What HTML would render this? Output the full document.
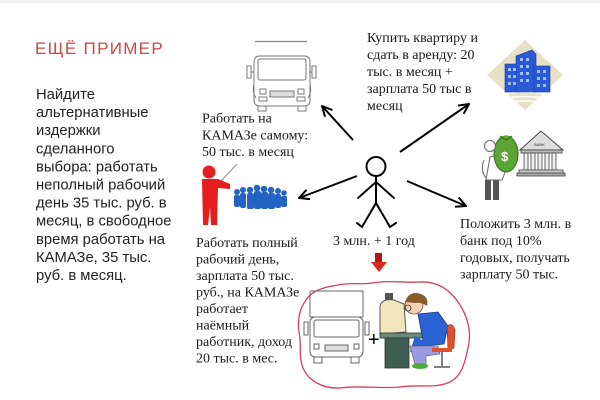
<!DOCTYPE html>
<html><head><meta charset="utf-8"><style>
html,body{margin:0;padding:0;background:#fff;}
svg{display:block;}
.t{font-family:"Liberation Serif","Noto Serif CJK SC",serif;font-size:14px;fill:#1a1a1a;}
.a{font-family:"Liberation Sans","Noto Sans CJK SC",sans-serif;font-size:14.8px;fill:#222;}
</style></head><body>
<svg width="600" height="400" viewBox="0 0 600 400" xmlns="http://www.w3.org/2000/svg">
<defs>
<marker id="ah" viewBox="0 0 12 12" refX="11" refY="6" markerWidth="12" markerHeight="12" markerUnits="userSpaceOnUse" orient="auto">
<path d="M1,1 L11,6 L1,11" fill="none" stroke="#000" stroke-width="2"/>
</marker>
</defs>
<rect width="600" height="400" fill="#fff"/>
<rect width="600" height="3" fill="#f2f2f2"/>

<!-- Title -->
<text x="35" y="54" font-family="Liberation Sans, sans-serif" font-size="17" fill="#c64a44" letter-spacing="1.3">ЕЩЁ ПРИМЕР</text>

<!-- Left paragraph -->
<g class="a">
<text x="36" y="99">Найдите</text>
<text x="36" y="117.1">альтернативные</text>
<text x="36" y="135.2">издержки</text>
<text x="36" y="153.3">сделанного</text>
<text x="36" y="171.4">выбора: работать</text>
<text x="36" y="189.5">неполный рабочий</text>
<text x="36" y="207.6">день 35 тыс. руб. в</text>
<text x="36" y="225.7">месяц, в свободное</text>
<text x="36" y="243.8">время работать на</text>
<text x="36" y="261.9">КАМАЗе, 35 тыс.</text>
<text x="36" y="280">руб. в месяц.</text>
</g>

<!-- Top truck -->
<g fill="none" stroke="#777" stroke-width="1">
<line x1="255" y1="41.5" x2="307" y2="41.5" stroke="#888" stroke-width="1.2"/>
<rect x="254" y="56" width="56" height="50" rx="5"/>
<rect x="258" y="59" width="48" height="21" rx="2"/>
<rect x="247" y="66" width="4" height="12"/>
<rect x="312" y="66" width="4" height="12"/>
<line x1="251" y1="72" x2="254" y2="72"/>
<line x1="309" y1="72" x2="312" y2="72"/>
<rect x="270" y="91" width="24" height="6" fill="#ddd"/>
<rect x="260" y="89" width="6" height="5"/>
<rect x="298" y="89" width="6" height="5"/>
<rect x="259" y="97" width="8" height="4"/>
<rect x="297" y="97" width="8" height="4"/>
<path d="M258,106 v5 h8 v-5 M298,106 v5 h8 v-5"/>
<path d="M254,84 q-2,8 2,14 M310,84 q2,8 -2,14"/>
</g>

<!-- Top-left label -->
<g class="t">
<text x="202" y="122.5">Работать на</text>
<text x="202" y="139.5">КАМАЗе самому:</text>
<text x="202" y="156">50 тыс. в месяц</text>
</g>

<!-- Top-right label -->
<g class="t">
<text x="367" y="42">Купить квартиру и</text>
<text x="367" y="59">сдать в аренду: 20</text>
<text x="367" y="76">тыс. в месяц +</text>
<text x="367" y="93">зарплата 50 тыс в</text>
<text x="367" y="110">месяц</text>
</g>

<!-- Building icon -->
<polygon points="525,40 563,75 525,110 487,75" fill="#e6e1c6"/>
<path d="M495,96 q30,-8 60,0 M497,100 q28,-7 56,0 M500,104 q25,-6 50,0" fill="none" stroke="#fff" stroke-width="1.5"/>
<g fill="#2a5ad8" stroke="#1a3a9a" stroke-width="0.6">
<rect x="505" y="64" width="14" height="28"/>
<polygon points="516,56 532,50 536,54 536,92 516,92"/>
<rect x="534" y="66" width="16" height="26"/>
</g>
<g fill="#9fc0ff">
<rect x="508" y="68" width="3" height="3"/><rect x="513" y="68" width="3" height="3"/>
<rect x="508" y="75" width="3" height="3"/><rect x="513" y="75" width="3" height="3"/>
<rect x="508" y="82" width="3" height="3"/><rect x="513" y="82" width="3" height="3"/>
<rect x="520" y="58" width="3" height="3"/><rect x="526" y="58" width="3" height="3"/>
<rect x="520" y="65" width="3" height="3"/><rect x="526" y="65" width="3" height="3"/>
<rect x="520" y="72" width="3" height="3"/><rect x="526" y="72" width="3" height="3"/>
<rect x="520" y="79" width="3" height="3"/><rect x="526" y="79" width="3" height="3"/>
<rect x="537" y="70" width="3" height="3"/><rect x="543" y="70" width="3" height="3"/>
<rect x="537" y="77" width="3" height="3"/><rect x="543" y="77" width="3" height="3"/>
<rect x="537" y="84" width="3" height="3"/><rect x="543" y="84" width="3" height="3"/>
</g>

<!-- Bank icon -->
<g>
<polygon points="520,150 541,131 563,150" fill="#ddd" stroke="#444" stroke-width="1"/>
<text x="534" y="146" font-family="Liberation Sans, sans-serif" font-size="4" fill="#333">BANK</text>
<rect x="521" y="150" width="41" height="3" fill="#bbb" stroke="#444" stroke-width="0.8"/>
<g fill="#eee" stroke="#444" stroke-width="0.8">
<rect x="524" y="153" width="4" height="17"/><rect x="531" y="153" width="4" height="17"/>
<rect x="538" y="153" width="4" height="17"/><rect x="545" y="153" width="4" height="17"/>
<rect x="552" y="153" width="4" height="17"/>
</g>
<rect x="519" y="170" width="44" height="3" fill="#ccc" stroke="#444" stroke-width="0.8"/>
<rect x="517" y="173" width="48" height="3" fill="#aaa" stroke="#444" stroke-width="0.8"/>
</g>
<g>
<path d="M490,157 l10,-3 l6,16 l-4,10 l-16,0 z" fill="#fff" stroke="#666" stroke-width="1"/>
<ellipse cx="506" cy="154" rx="12" ry="18" fill="#5aa534" stroke="#2d6a1a" stroke-width="1"/>
<path d="M500,136 l6,4 l6,-4" fill="#5aa534" stroke="#2d6a1a" stroke-width="1"/>
<text x="501" y="161" font-family="Liberation Sans, sans-serif" font-size="13" font-weight="bold" fill="#fff">$</text>
<circle cx="490" cy="146" r="5.5" fill="#fff" stroke="#666" stroke-width="1"/>
<rect x="485" y="180" width="6" height="20" fill="#555"/>
<rect x="493" y="180" width="6" height="20" fill="#555"/>
<path d="M484,160 q-4,10 2,18" fill="none" stroke="#666" stroke-width="1"/>
</g>

<!-- Bottom-right label -->
<g class="t">
<text x="460" y="228">Положить 3 млн. в</text>
<text x="460" y="245">банк под 10%</text>
<text x="460" y="262">годовых, получать</text>
<text x="460" y="278.5">зарплату 50 тыс.</text>
</g>

<!-- Red teacher + crowd -->
<g>
<line x1="221" y1="181" x2="237" y2="164" stroke="#999" stroke-width="1.2"/>
<circle cx="209" cy="172" r="6.5" fill="#e41e1e"/>
<path d="M202,179 h16 l12,5 l0,5 l-12,-1 l-1,37 h-6 l-1,-18 l-2,18 h-5 z" fill="#e41e1e"/>
</g>
<g fill="#2463c4">
<circle cx="237" cy="192" r="3"/><rect x="234" y="195" width="6" height="12" rx="2"/>
<circle cx="243" cy="190" r="3"/><rect x="240" y="193" width="6" height="15" rx="2"/>
<circle cx="250" cy="190" r="3.2"/><rect x="247" y="193" width="7" height="16" rx="2"/>
<circle cx="257" cy="188" r="3.3"/><rect x="254" y="191" width="7" height="18" rx="2"/>
<circle cx="264" cy="189" r="3.3"/><rect x="261" y="192" width="7" height="17" rx="2"/>
<circle cx="271" cy="190" r="3.2"/><rect x="268" y="193" width="7" height="16" rx="2"/>
<circle cx="278" cy="191" r="3"/><rect x="275" y="194" width="6" height="14" rx="2"/>
<circle cx="284" cy="193" r="2.8"/><rect x="281" y="196" width="6" height="11" rx="2"/>
</g>

<!-- Bottom-left label -->
<g class="t">
<text x="196" y="247">Работать полный</text>
<text x="196" y="263.5">рабочий день,</text>
<text x="196" y="280">зарплата 50 тыс.</text>
<text x="196" y="296.5">руб., на КАМАЗе</text>
<text x="196" y="313">работает</text>
<text x="196" y="329.5">наёмный</text>
<text x="196" y="346">работник, доход</text>
<text x="196" y="362.5">20 тыс. в мес.</text>
</g>

<!-- Stick figure -->
<g fill="none" stroke="#000" stroke-width="2" stroke-linecap="round">
<circle cx="376" cy="166.5" r="9.5"/>
<line x1="376" y1="176" x2="376" y2="203"/>
<line x1="376" y1="182" x2="358" y2="198"/>
<line x1="376" y1="182" x2="394" y2="198"/>
<path d="M376,203 L362,227 L357,223"/>
<path d="M376,203 L390,227 L396,223"/>
</g>

<!-- Arrows -->
<g stroke="#000" stroke-width="2" marker-end="url(#ah)">
<line x1="353" y1="140" x2="322" y2="106"/>
<line x1="400" y1="152" x2="469" y2="104"/>
<line x1="357" y1="176" x2="299" y2="198"/>
<line x1="407" y1="181" x2="466" y2="206"/>
</g>

<text class="t" x="333" y="245">3 млн. + 1 год</text>

<!-- Red down arrow -->
<rect x="375" y="253" width="7" height="10" fill="#b81414"/>
<polygon points="371,262 387,262 379,272" fill="#e02424"/>

<!-- Cloud -->
<path d="M306,300 C312,290 325,287 338,285 C352,282 360,285 372,283 C390,280 405,283 420,282 C440,281 452,292 460,305 C468,318 472,332 468,348 C465,362 462,376 450,382 C435,389 418,384 400,387 C380,389 360,385 340,388 C322,389 308,380 303,368 C298,355 302,345 299,332 C297,320 300,308 306,300 Z" fill="none" stroke="#d4405a" stroke-width="1.3"/>

<!-- Lower truck -->
<g fill="none" stroke="#666" stroke-width="1">
<rect x="310" y="291" width="53" height="26" rx="1"/>
<rect x="310" y="317" width="53" height="40" rx="5"/>
<rect x="314" y="320" width="45" height="17" rx="2"/>
<rect x="304" y="322" width="4" height="13"/>
<rect x="365" y="322" width="4" height="13"/>
<rect x="325" y="345" width="23" height="6" fill="#ddd"/>
<rect x="314" y="344" width="5" height="5"/>
<rect x="354" y="344" width="5" height="5"/>
<path d="M314,357 v6 h8 v-6 M351,357 v6 h8 v-6"/>
</g>
<text x="368" y="346" font-family="Liberation Sans, sans-serif" font-size="20" fill="#000">+</text>

<!-- Computer guy -->
<g>
<rect x="385" y="293" width="8" height="10" fill="#555"/>
<path d="M380,306 q2,-8 14,-6 l10,4 l2,28 l-26,2 z" fill="#f3e6bd" stroke="#555" stroke-width="1"/>
<rect x="380" y="333" width="48" height="5" fill="#6a8a7a" stroke="#333" stroke-width="0.8"/>
<rect x="385" y="338" width="24" height="30" fill="#3e5e52" stroke="#333" stroke-width="0.8"/>
<path d="M418,314 l20,-2 l10,14 l-4,18 l-20,2 z" fill="#2a62d4" stroke="#1a3a8a" stroke-width="0.8"/>
<path d="M415,336 l14,8 l-2,10 l-17,-2 z" fill="#2a62d4"/>
<path d="M410,346 l28,0 l2,8 l-14,2 l0,12 l-10,0 z" fill="#9a9ae0" stroke="#555" stroke-width="0.6"/>
<ellipse cx="420" cy="366" rx="8" ry="3" fill="#4caa3c"/>
<circle cx="414" cy="305" r="9" fill="#f6d2b0" stroke="#555" stroke-width="0.8"/>
<path d="M405,302 q4,-12 16,-8 q8,3 6,12 q-6,-4 -12,-3 z" fill="#8a5a2a"/>
<circle cx="408" cy="308" r="3" fill="none" stroke="#333" stroke-width="0.8"/>
<path d="M447,326 q6,-4 8,4 l-1,18 l-6,2 z" fill="#e2502e" stroke="#8a2a1a" stroke-width="0.6"/>
<rect x="432" y="348" width="20" height="4" fill="#e2502e"/>
<line x1="442" y1="352" x2="442" y2="366" stroke="#555" stroke-width="1.5"/>
<line x1="434" y1="367" x2="450" y2="367" stroke="#555" stroke-width="1.5"/>
</g>
</svg>
</body></html>
